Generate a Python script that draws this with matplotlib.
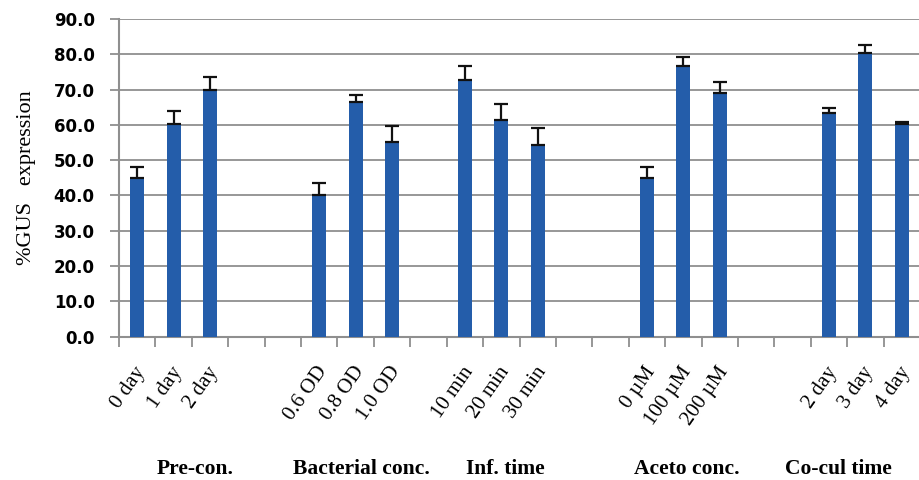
import numpy as np
import matplotlib
matplotlib.use('Agg')
import matplotlib.pyplot as plt
from matplotlib.transforms import ScaledTranslation

# 类别（空字符串为组间空位）
labels = ['0 day', '1 day', '2 day', '', '',
          '0.6 OD', '0.8 OD', '1.0 OD', '',
          '10 min', '20 min', '30 min', '', '',
          '0 \u00b5M', '100 \u00b5M', '200 \u00b5M', '', '',
          '2 day', '3 day', '4 day']
values = [45.0, 60.2, 70.0, np.nan, np.nan,
          40.1, 66.5, 55.2, np.nan,
          72.6, 61.4, 54.2, np.nan, np.nan,
          45.0, 76.7, 69.0, np.nan, np.nan,
          63.4, 80.3, 60.2]
errors = [3.1, 3.7, 3.6, 0, 0,
          3.3, 1.9, 4.6, 0,
          4.1, 4.5, 5.0, 0, 0,
          3.1, 2.5, 3.1, 0, 0,
          1.4, 2.2, 0.6]
group_names = ['Pre-con.', 'Bacterial conc.', 'Inf. time', 'Aceto conc.', 'Co-cul time']
group_x = [1.59, 6.15, 10.1, 15.1, 19.25]

bar_color = '#245DAA'
grid_color = '#8f8f8f'

fig = plt.figure(figsize=(9.2, 4.8), dpi=100)
ax = fig.add_axes([119 / 920, 1 - 336.6 / 480, 1 - 119 / 920, (336.6 - 19) / 480])

x = np.arange(len(labels))
vals = np.array(values, dtype=float)
err = np.array(errors, dtype=float)
mask = ~np.isnan(vals)
ax.bar(x[mask], vals[mask], width=0.38, color=bar_color, zorder=3)
ax.errorbar(x[mask], vals[mask], yerr=[np.zeros(mask.sum()), err[mask]],
            fmt='none', ecolor='#111111', elinewidth=1.6, capsize=5, capthick=1.6, zorder=4)

ax.set_xlim(-0.5, len(labels) - 0.5)
ax.set_ylim(0, 90)
ax.set_yticks(np.arange(0, 91, 10))
ax.set_yticklabels(['%.1f' % v for v in np.arange(0, 91, 10)],
                   fontsize=12, fontweight='bold', family='DejaVu Sans')
ax.yaxis.grid(True, color=grid_color, linewidth=1.3, zorder=0)
ax.set_axisbelow(True)

# 刻度线在类别边界，标签在类别中心
ax.set_xticks(np.arange(-0.5, len(labels), 1.0))
ax.set_xticklabels([])
ax.set_xticks(x, minor=True)
ax.set_xticklabels(labels, minor=True, rotation=55, ha='right', va='top',
                   rotation_mode='anchor', family='Liberation Serif', fontsize=15)
ax.tick_params(axis='x', which='major', length=7, width=1.3, color=grid_color, direction='out')
ax.tick_params(axis='x', which='minor', length=0, pad=19)
ax.tick_params(axis='y', length=6.5, width=1.3, color=grid_color, pad=11)
offset = ScaledTranslation(-0.03, 0, fig.dpi_scale_trans)
for lab in ax.get_xticklabels(minor=True):
    lab.set_transform(lab.get_transform() + offset)

for s in ['top', 'right']:
    ax.spines[s].set_visible(False)
for s in ['left', 'bottom']:
    ax.spines[s].set_color(grid_color)
    ax.spines[s].set_linewidth(1.5)

ax.set_ylabel('%GUS   expression', family='Liberation Serif', fontsize=16)
ax.yaxis.set_label_coords(-0.104, 0.5)

for name, gx in zip(group_names, group_x):
    ax.text(gx, -37.5, name, ha='center', va='center', family='Liberation Serif',
            fontsize=15.5, fontweight='bold', transform=ax.transData, clip_on=False)

fig.savefig('out.png', dpi=100)
